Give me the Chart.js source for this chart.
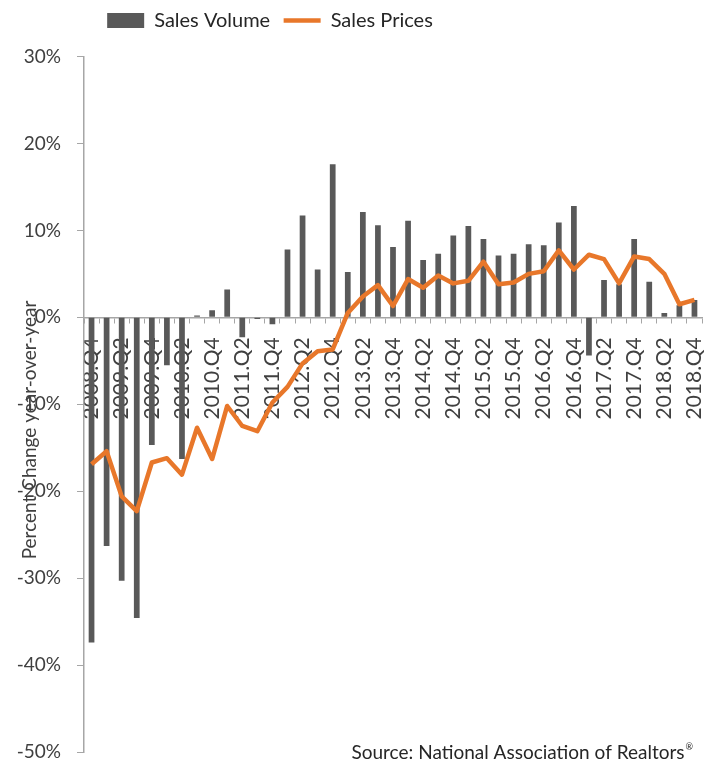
<!DOCTYPE html>
<html>
<head>
<meta charset="utf-8">
<script src="https://cdn.jsdelivr.net/npm/chart.js@4"></script>
<style>
  body { margin: 0; background: #fff; }
  canvas { display: block; }
</style>
</head>
<body>
<canvas id="myChart" width="710" height="763"></canvas>
<script>
// quarters, 2008.Q4 .. 2018.Q4
const quarters = [
  '2008.Q4',
  '2009.Q1', '2009.Q2', '2009.Q3', '2009.Q4',
  '2010.Q1', '2010.Q2', '2010.Q3', '2010.Q4',
  '2011.Q1', '2011.Q2', '2011.Q3', '2011.Q4',
  '2012.Q1', '2012.Q2', '2012.Q3', '2012.Q4',
  '2013.Q1', '2013.Q2', '2013.Q3', '2013.Q4',
  '2014.Q1', '2014.Q2', '2014.Q3', '2014.Q4',
  '2015.Q1', '2015.Q2', '2015.Q3', '2015.Q4',
  '2016.Q1', '2016.Q2', '2016.Q3', '2016.Q4',
  '2017.Q1', '2017.Q2', '2017.Q3', '2017.Q4',
  '2018.Q1', '2018.Q2', '2018.Q3', '2018.Q4'
];

// percent change year-over-year
const salesVolume = [
  -37.4,
  -26.3, -30.3, -34.6, -14.7,
  -5.5, -16.3, 0.2, 0.8,
  3.2, -2.3, -0.2, -0.8,
  7.8, 11.7, 5.5, 17.6,
  5.2, 12.1, 10.6, 8.1,
  11.1, 6.6, 7.3, 9.4,
  10.5, 9.0, 7.1, 7.3,
  8.4, 8.3, 10.9, 12.8,
  -4.4, 4.3, 3.8, 9.0,
  4.1, 0.5, 1.4, 2.0
];

const salesPrices = [
  -16.9,
  -15.4, -20.6, -22.3, -16.7,
  -16.2, -18.1, -12.7, -16.3,
  -10.2, -12.5, -13.1, -9.8,
  -8.0, -5.3, -3.9, -3.7,
  0.5, 2.4, 3.7, 1.3,
  4.4, 3.4, 4.8, 3.9,
  4.2, 6.4, 3.8, 4.0,
  5.0, 5.3, 7.7, 5.5,
  7.2, 6.7, 3.9, 7.0,
  6.7, 5.0, 1.5, 2.0
];

const yMin = -50;
const yMax = 30;
const yStep = 10;

const yTitle = 'Percent Change year-over-year';
const sourceText = 'Source: National Association of Realtors';

const axisGrey = '#a6a6a6';
const textColor = '#404040';

Chart.defaults.font.family = 'Lato';
Chart.defaults.color = textColor;

// y title and source line sit on top of the plot like in the original
const extras = {
  id: 'extras',
  afterLayout(chart) {
    const lg = chart.legend;
    lg.left -= 87; lg.right -= 87;
    lg.top -= 16; lg.bottom -= 16;
  },
  afterDraw(chart) {
    const ctx = chart.ctx;
    ctx.save();
    ctx.fillStyle = textColor;
    ctx.font = '19px Lato';
    ctx.textAlign = 'center';
    ctx.textBaseline = 'middle';
    ctx.translate(30, 430);
    ctx.rotate(-Math.PI / 2);
    ctx.fillText(yTitle, 0, 0);
    ctx.restore();

    ctx.save();
    ctx.fillStyle = '#262626';
    ctx.font = '9px Lato';
    ctx.textAlign = 'right';
    ctx.textBaseline = 'alphabetic';
    ctx.fillText('\u00AE', 693, 750);
    const w = ctx.measureText('\u00AE').width;
    ctx.font = '19px Lato';
    ctx.fillText(sourceText, 693 - w - 1, 759);
    ctx.restore();
  }
};

const ctx = document.getElementById('myChart').getContext('2d');
const myChart = new Chart(ctx, {
  data: {
    labels: quarters,
    datasets: [
      {
        type: 'bar',
        label: 'Sales Volume',
        data: salesVolume,
        backgroundColor: '#595959',
        borderWidth: 0,
        barPercentage: 0.38,
        categoryPercentage: 1,
        pointStyle: 'rect',
        order: 2
      },
      {
        type: 'line',
        label: 'Sales Prices',
        data: salesPrices,
        borderColor: '#E8772A',
        backgroundColor: '#E8772A',
        borderWidth: 4.5,
        borderJoinStyle: 'round',
        pointRadius: 0,
        tension: 0,
        pointStyle: 'line',
        order: 1
      }
    ]
  },
  options: {
    responsive: false,
    animation: false,
    layout: { padding: { left: 12, right: 8, top: 13, bottom: 0 } },
    plugins: {
      tooltip: { enabled: false },
      legend: {
        position: 'top',
        labels: {
          usePointStyle: true,
          pointStyleWidth: 37,
          boxHeight: 15,
          padding: 13.5,
          color: '#262626',
          font: { size: 20 },
          sort: (a, b) => a.datasetIndex - b.datasetIndex
        }
      }
    },
    scales: {
      x: {
        type: 'category',
        position: { y: 0 },
        offset: true,
        border: { display: true, color: axisGrey, width: 1.5 },
        grid: { display: true, drawOnChartArea: false, offset: true, tickLength: 5, color: axisGrey },
        ticks: {
          autoSkip: false,
          maxRotation: 90,
          minRotation: 90,
          padding: 15,
          color: textColor,
          font: { size: 21 },
          callback: (v, i) => (i % 2 === 0 ? quarters[i] : '')
        },
        afterFit: (s) => { s.paddingLeft = 0; s.paddingRight = 0; }
      },
      y: {
        min: yMin,
        max: yMax,
        border: { display: true, color: axisGrey, width: 1.5 },
        grid: { display: true, drawOnChartArea: false, tickLength: 7, color: axisGrey },
        ticks: {
          stepSize: yStep,
          padding: 16,
          color: textColor,
          font: { size: 19 },
          callback: (v) => v + '%'
        },
        afterFit: (s) => { s.width = 72; s.paddingTop = 0; s.paddingBottom = 11; }
      }
    }
  },
  plugins: [extras]
});
</script>
</body>
</html>
